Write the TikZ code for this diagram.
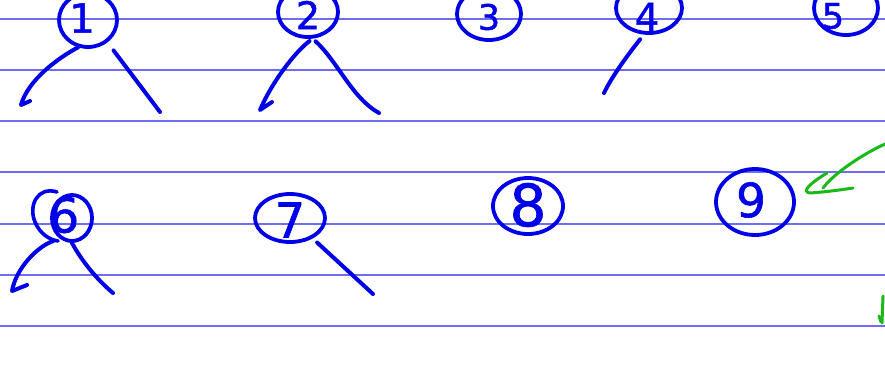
\documentclass[tikz,border=0pt]{standalone}
\usepackage{fontspec}
\newfontfamily\handfont[FakeBold=1.2]{DejaVu Sans}
\usetikzlibrary{shapes.geometric}
\definecolor{ink}{RGB}{0,0,232}
\definecolor{rulecol}{RGB}{110,110,245}
\definecolor{gink}{RGB}{25,185,25}
\begin{document}
\begin{tikzpicture}[x=1pt,y=-1pt,
  ruleline/.style={draw=rulecol, line width=1.3pt},
  inkline/.style={draw=ink, line width=4pt, line cap=round, line join=round},
  greenline/.style={draw=gink, line width=3pt, line cap=round, line join=round},
  bubble/.style={ellipse, draw=ink, line width=3.8pt, inner sep=0pt},
  digit/.style={text=ink, inner sep=0pt, font=\handfont\fontsize{#1}{#1}\selectfont}]
\useasboundingbox (0,0) rectangle (885,365);
\fill[white] (0,0) rectangle (885,365);
% ruled paper
\foreach \yy in {19,70,121,172,224,275,326}
  \draw[ruleline] (0,\yy) -- (885,\yy);
% bubbles
\node[bubble, minimum width=58pt, minimum height=54pt] (n1) at (88,20) {};
\node[bubble, minimum width=60pt, minimum height=50pt] (n2) at (308,12) {};
\node[bubble, minimum width=64pt, minimum height=52pt] (n3) at (489,14) {};
\node[bubble, minimum width=66pt, minimum height=50pt] (n4) at (649,8) {};
\node[bubble, minimum width=64pt, minimum height=54pt] (n5) at (846,8) {};
\node[bubble, minimum width=40pt, minimum height=46pt] (n6) at (72,218) {};
\node[bubble, minimum width=70pt, minimum height=48pt] (n7) at (290,218) {};
\node[bubble, minimum width=70pt, minimum height=56pt] (n8) at (528,206) {};
\node[bubble, minimum width=78pt, minimum height=66pt] (n9) at (755,202) {};
% digits
\node[digit=40] (t1) at (82,18) {1};
\node[digit=38] (t2) at (308,15) {2};
\node[digit=35] (t3) at (489,17) {3};
\node[digit=39] (t4) at (647,17) {4};
\node[digit=35] (t5) at (833,16) {5};
\node[digit=48] (t6) at (64,215) {6};
\node[digit=48] (t7) at (290,220) {7};
\node[digit=58] (t8) at (528,205) {8};
\node[digit=47] (t9) at (751,200) {9};
% extra stroke around 6
\draw[inkline, line width=3.6pt] (57,192) .. controls (38,186) and (28,205) .. (35,222)
  .. controls (40,234) and (50,240) .. (58,241);
% free ends
\coordinate (e1l) at (21,105);
\coordinate (e1r) at (160,112);
\coordinate (e2l) at (260,110);
\coordinate (e2r) at (379,113);
\coordinate (e4) at (604,93);
\coordinate (e6l) at (12,291);
\coordinate (e6r) at (113,293);
\coordinate (e7) at (373,294);
% connectors
\draw[inkline] (n1.250) .. controls (58,58) and (28,80) .. (e1l) -- ++(9,-4);
\draw[inkline, shorten <=10pt] (n1.311) -- (e1r);
\draw[inkline, shorten <=4pt] (n2.280) .. controls (295,52) and (272,82) .. (e2l) -- ++(12,-8);
\draw[inkline, shorten <=4pt] (n2.280) .. controls (338,62) and (352,98) .. (e2r);
\draw[inkline, shorten <=6pt] (n4.259) .. controls (630,52) and (612,76) .. (e4);
\draw[inkline, shorten <=7pt] (n6.240) .. controls (38,246) and (16,268) .. (e6l) -- ++(15,-6);
\draw[inkline] (n6.south) .. controls (80,258) and (95,278) .. (e6r);
\draw[inkline, shorten <=6pt] (n7.318) -- (e7);
% green pointer
\coordinate (g0) at (885,144);
\coordinate (g1) at (823,188);
\draw[greenline] (g0) .. controls (865,153) and (835,172) .. (g1);
\draw[greenline] (827,173) .. controls (812,182) and (800,192) .. (810,193)
  .. controls (825,192) and (840,190) .. (853,188);
\draw[greenline] (883,296) -- (882,323);
\draw[greenline] (879,316) -- (881,322);
\end{tikzpicture}
\end{document}
